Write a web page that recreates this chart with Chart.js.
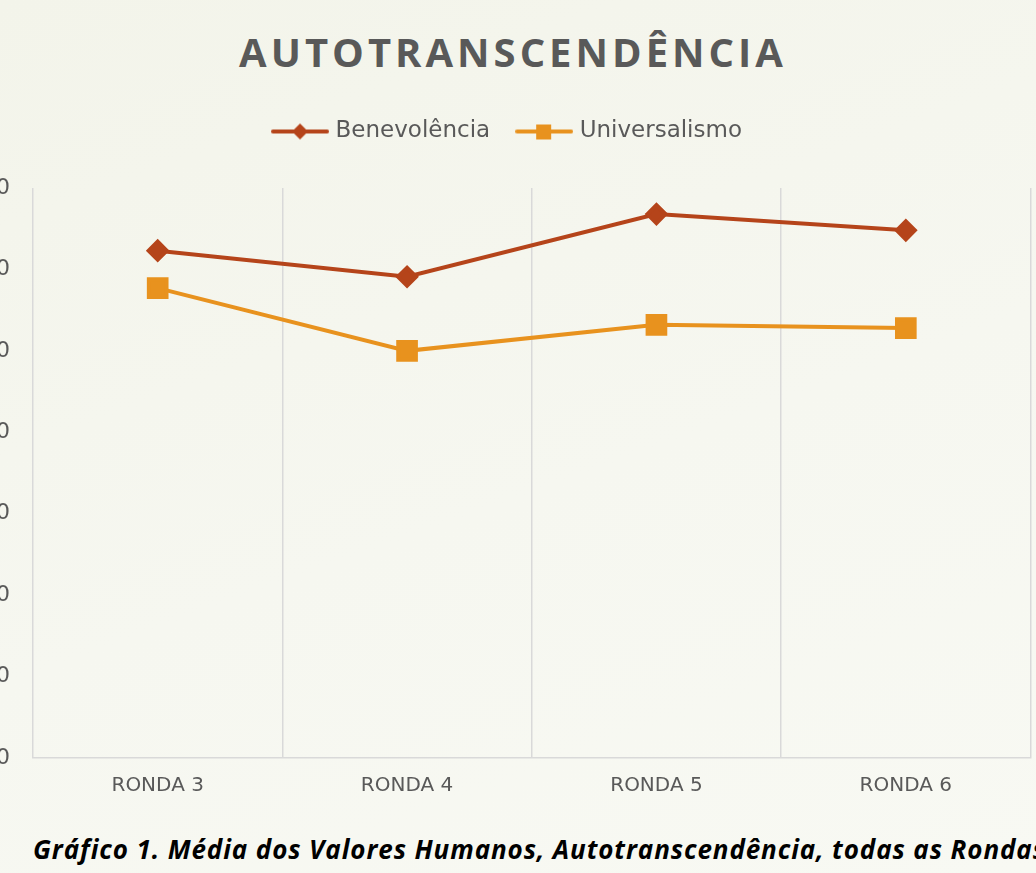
<!DOCTYPE html>
<html>
<head>
<meta charset="utf-8">
<script src="https://cdn.jsdelivr.net/npm/chart.js@4"></script>
<style>
  html, body { margin: 0; padding: 0; }
  body {
    width: 1036px; height: 873px; overflow: hidden; position: relative;
    background: linear-gradient(160deg, #f3f4ea 0%, #f6f7f0 55%, #f8f9f3 100%);
  }
  #title {
    position: absolute; left: 0; width: 1026px; top: 24px; text-align: center;
    font-family: 'Open Sans', sans-serif; font-weight: 700; font-size: 40px;
    letter-spacing: 4px; color: #595959;
  }
  #chart { position: absolute; left: -27px; top: 90px; }
  #caption {
    position: absolute; left: 33px; top: 831px; white-space: nowrap;
    font-family: 'Open Sans', sans-serif; font-weight: 700; font-style: italic;
    font-size: 26px; letter-spacing: 0.9px; color: #000;
  }
</style>
</head>
<body>
<div id="title">AUTOTRANSCENDÊNCIA</div>
<canvas id="chart" width="1074" height="724"></canvas>
<div id="caption">Gráfico 1. Média dos Valores Humanos, Autotranscendência, todas as Rondas</div>
<script>
const labels = ['RONDA 3', 'RONDA 4', 'RONDA 5', 'RONDA 6'];
const benevolencia = [6.23, 5.91, 6.68, 6.48];
const universalismo = [5.77, 5.00, 5.32, 5.28];
const yTicks = [0, 1, 2, 3, 4, 5, 6, 7];

const darkOrange = '#b5441a';
const lightOrange = '#e8921e';

// legend swatch: short line with the marker in the middle
function swatch(color, style) {
  const c = document.createElement('canvas');
  c.width = 58; c.height = 20;
  const g = c.getContext('2d');
  g.strokeStyle = color; g.lineWidth = 4; g.lineCap = 'round';
  g.beginPath(); g.moveTo(2, 10); g.lineTo(56, 10); g.stroke();
  g.fillStyle = color;
  if (style === 'diamond') {
    g.beginPath(); g.moveTo(29, 2); g.lineTo(37, 10); g.lineTo(29, 18); g.lineTo(21, 10); g.closePath(); g.fill();
  } else {
    g.fillRect(21, 3, 15, 15);
  }
  return c;
}
const swatches = [swatch(darkOrange, 'diamond'), swatch(lightOrange, 'square')];

// extra room under the legend
const legendGap = {
  id: 'legendGap',
  beforeInit(chart) {
    const fit = chart.legend.fit;
    chart.legend.fit = function () {
      fit.bind(chart.legend)();
      this.height += 35;
    };
  }
};

new Chart(document.getElementById('chart'), {
  type: 'line',
  data: {
    labels: labels,
    datasets: [{
      label: 'Benevolência',
      data: benevolencia,
      borderColor: darkOrange,
      backgroundColor: darkOrange,
      borderWidth: 4,
      pointStyle: 'rectRot',
      pointRadius: 9,
      pointHoverRadius: 9,
      tension: 0
    }, {
      label: 'Universalismo',
      data: universalismo,
      borderColor: lightOrange,
      backgroundColor: lightOrange,
      borderWidth: 4,
      pointStyle: 'rect',
      pointRadius: 12.5,
      pointHoverRadius: 12.5,
      tension: 0
    }]
  },
  plugins: [legendGap],
  options: {
    responsive: false,
    animation: false,
    layout: { padding: { left: 0, right: 2, top: 0, bottom: 0 } },
    plugins: {
      tooltip: { enabled: false },
      legend: {
        position: 'top',
        labels: {
          color: '#595959',
          font: { family: 'DejaVu Sans', size: 23 },
          usePointStyle: true,
          pointStyleWidth: 48,
          padding: 30,
          generateLabels: chart => chart.data.datasets.map((ds, i) => ({
            text: ds.label,
            pointStyle: swatches[i],
            fillStyle: ds.borderColor,
            strokeStyle: ds.borderColor,
            lineWidth: 0,
            fontColor: '#595959',
            datasetIndex: i
          }))
        }
      }
    },
    scales: {
      x: {
        offset: true,
        grid: { display: true, offset: true, color: '#d9d9d9', lineWidth: 1.5, drawTicks: false },
        border: { display: true, color: '#d9d9d9', width: 1.5 },
        ticks: { color: '#595959', font: { family: 'DejaVu Sans', size: 20 }, padding: 16 }
      },
      y: {
        min: 0,
        max: 7,
        afterBuildTicks: scale => { scale.ticks = yTicks.map(v => ({ value: v })); },
        afterFit: scale => { scale.width = 60; },
        grid: { display: false, drawTicks: false },
        border: { display: false },
        ticks: {
          color: '#595959',
          font: { family: 'DejaVu Sans', size: 22 },
          padding: 23,
          callback: v => v.toFixed(1).replace('.', ',')
        }
      }
    }
  }
});
</script>
</body>
</html>
